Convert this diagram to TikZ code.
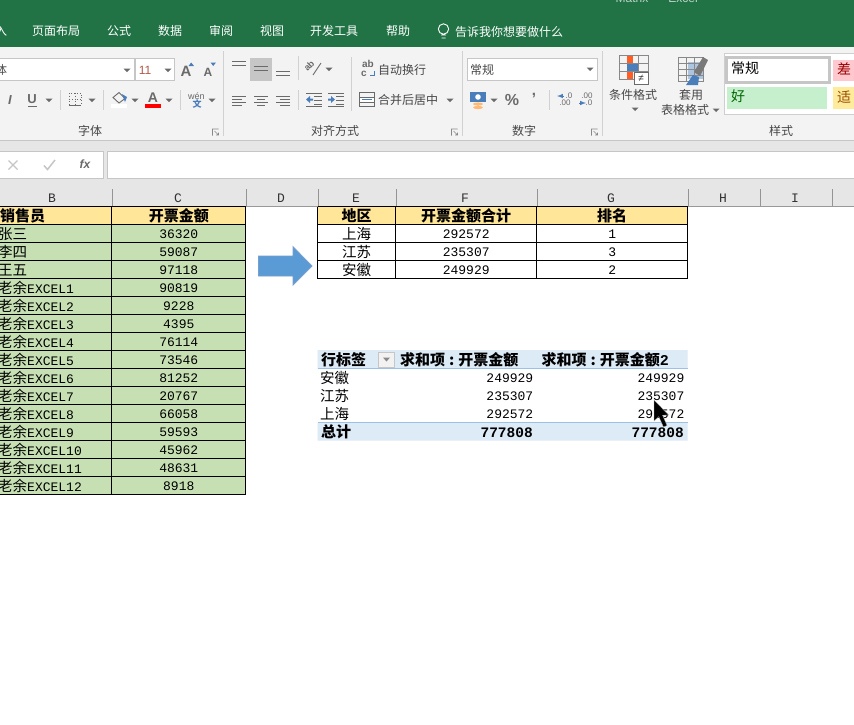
\documentclass[tikz,border=0pt]{standalone}
\usepackage{fontspec}
\setmainfont{Liberation Sans}
\newfontfamily\cjk{Noto Sans CJK SC}
\newfontfamily\mono{Liberation Mono}
\definecolor{xlgreen}{HTML}{217346}
\definecolor{ribbonbg}{HTML}{F3F3F3}
\definecolor{framegrey}{HTML}{C6C6C6}
\definecolor{bandgrey}{HTML}{E6E6E6}
\definecolor{icongrey}{HTML}{6A6A6A}
\definecolor{iconblue}{HTML}{4A7EBB}
\definecolor{headyellow}{HTML}{FFE699}
\definecolor{bodygreen}{HTML}{C6E0B4}
\definecolor{pivotblue}{HTML}{DDEBF7}
\definecolor{pivotline}{HTML}{9BC2E6}
\definecolor{goodfill}{HTML}{C6EFCE}
\definecolor{badfill}{HTML}{FFC7CE}
\definecolor{neutralfill}{HTML}{FFEB9C}
\definecolor{arrowblue}{HTML}{5B9BD5}
\tikzset{
  tabtext/.style={inner sep=0pt,text=white,font=\cjk\fontsize{12}{12}\selectfont},
  menutext/.style={inner sep=0pt,text=black!72,font=\cjk\fontsize{12}{12}\selectfont},
  cell/.style={inner sep=0pt,font=\cjk\fontsize{14.5}{14.5}\selectfont},
  headcell/.style={inner sep=0pt,font=\cjk\bfseries\fontsize{15}{15}\selectfont},
  numcell/.style={inner sep=0pt,yshift=-.7pt,font=\mono\fontsize{13}{13}\selectfont},
  totalcell/.style={inner sep=0pt,yshift=-.7pt,font=\mono\bfseries\fontsize{14.5}{14.5}\selectfont},
  colhead/.style={inner sep=0pt,text=black!80,font=\mono\fontsize{13}{13}\selectfont},
  icontext/.style={inner sep=0pt,text=icongrey,font=\bfseries\fontsize{#1}{#1}\selectfont},
  box/.style={draw=framegrey,fill=white,line width=1pt},
  grid/.style={draw=black,line width=1pt},
  sep/.style={draw=framegrey!80,line width=1pt},
  iconline/.style={draw=icongrey,line width=.9pt}
}
\begin{document}
\begin{tikzpicture}[x=1pt,y=-1pt]
  \useasboundingbox (0,0) rectangle (854,724);
  \fill[white] (0,0) rectangle (854,724);

  % title bar and tabs
  \fill[xlgreen] (0,0) rectangle (854,47);
  \node[inner sep=0pt,text=white!70!xlgreen,font=\fontsize{12}{12}\selectfont] (titlea) at (632,-2) {Matrix};
  \node[inner sep=0pt,text=white!70!xlgreen,font=\fontsize{12}{12}\selectfont] (titleb) at (683,-2) {Excel};
  \node[tabtext] (tabinsert) at (1,31) {入};
  \foreach \name/\xc/\lab in {page/56/页面布局,formula/119/公式,data/170/数据,review/221/审阅,view/272/视图,dev/334/开发工具,help/398/帮助}
    \node[tabtext] (tab\name) at (\xc,30.5) {\lab};
  \draw[white,line width=.9pt] (443.5,29) circle (5.2) (441,35) -- (446,35) (441.5,38) -- (445.5,38);
  \node[tabtext,anchor=west] (tabtell) at (455,31.5) {告诉我你想要做什么};

  % ribbon
  \fill[ribbonbg] (0,47) rectangle (854,140);
  \draw[framegrey] (0,140.5) -- (854,140.5);
  \fill[bandgrey] (0,141) rectangle (854,206);
  \foreach \xs in {223.5,462.5,602.5}
    \draw[sep] (\xs,51) -- (\xs,136);
  \foreach \xs in {60.5,103.5,180.5,298.5}
    \draw[sep] (\xs,90) -- (\xs,110);
  \draw[sep] (298.5,56) -- (298.5,80);
  \draw[sep] (351.5,57) -- (351.5,111);
  \draw[sep] (549.5,90) -- (549.5,110);

  % font group
  \draw[box] (-2,58.5) rectangle (134.5,80.5);
  \draw[box] (135.5,58.5) rectangle (174.5,80.5);
  \node[menutext,text=black!70,font=\cjk\fontsize{12}{12}\selectfont] (fontname) at (1,70) {体};
  \node[inner sep=0pt,text=orange!70!blue,font=\fontsize{12}{12}\selectfont] (fontsize) at (145,70) {11};
  \node[icontext=15] (growfont) at (186,71) {A};
  \node[icontext=12] (shrinkfont) at (208,72) {A};
  \fill[iconblue] (188.5,66) -- (194,66) -- (191.2,62.5) -- cycle (210.5,62.5) -- (216,62.5) -- (213.2,66) -- cycle;
  \node[inner sep=0pt,text=icongrey,font=\bfseries\itshape\fontsize{13}{13}\selectfont] (italicb) at (10,100) {I};
  \node[inner sep=0pt,text=icongrey,font=\bfseries\fontsize{13}{13}\selectfont] (underlineb) at (32,99) {U};
  \draw[iconline] (28,106.5) -- (37,106.5);
  \draw[icongrey,dotted,line width=.8pt] (69,93) rectangle (81,105) (75,93) -- (75,105) (69,99) -- (81,99);
  \draw[iconline] (69,105.5) -- (81,105.5);
  \fill[white] (111,104) rectangle (127,108);
  \draw[icongrey,line width=.9pt] (113,97.5) -- (119,92.5) -- (125,98.5) -- (119,103) -- cycle;
  \fill[iconblue] (122,94) -- (127,97) -- (125,102) -- cycle;
  \node[icontext=14] (fontcolor) at (153,98) {A};
  \fill[red] (145,104) rectangle (161,108);
  \node[inner sep=0pt,text=icongrey,font=\fontsize{9}{9}\selectfont] (wen) at (196.5,96) {wén};
  \node[inner sep=0pt,text=iconblue,font=\cjk\bfseries\fontsize{9}{9}\selectfont] (wenzi) at (197,104) {文};
  \node[menutext] (fontgroup) at (90,131) {字体};

  % alignment group
  \fill[framegrey] (250,58) rectangle (272,81);
  \foreach \xa/\ya in {232/61,232/65,254/66,254/70,276/71,276/75}
    \draw[iconline] (\xa,\ya) -- (\xa+14,\ya);
  \foreach \xa/\xb/\xc/\xd in {232/246/232/242,254/268/257/265,276/290/280/290}{
    \foreach \ya in {96,102}
      \draw[iconline,line width=.7pt] (\xa,\ya) -- (\xb,\ya);
    \foreach \ya in {99,105}
      \draw[iconline,line width=.7pt] (\xc,\ya) -- (\xd,\ya);
  }
  \node[icontext=9,rotate=45] (orient) at (309,66) {ab};
  \draw[iconline] (313,75) -- (321,63);
  \node[icontext=10] (wrapab) at (368,64) {ab};
  \node[icontext=10] (wrapc) at (364,74) {c};
  \draw[iconblue,line width=.9pt] (374,71) -- (374,75) -- (370,75);
  \node[menutext] (wraptext) at (402,69.5) {自动换行};
  \foreach \ya in {96,100,104}
    \draw[iconline,line width=.7pt] (314,\ya) -- (322,\ya) (336,\ya) -- (344,\ya);
  \draw[iconline,line width=.7pt] (306,93) -- (322,93) (306,106) -- (322,106) (328,93) -- (344,93) (328,106) -- (344,106);
  \fill[iconblue] (306,99.5) -- (310,96) -- (310,98.5) -- (313,98.5) -- (313,100.5) -- (310,100.5) -- (310,103) -- cycle;
  \fill[iconblue] (335,99.5) -- (331,96) -- (331,98.5) -- (328,98.5) -- (328,100.5) -- (331,100.5) -- (331,103) -- cycle;
  \draw[iconline] (359.5,92.5) rectangle (374,106.5) (359.5,97) -- (374,97) (359.5,102) -- (374,102);
  \fill[white] (360,97.5) rectangle (373.5,101.5);
  \draw[iconblue,line width=.8pt] (362,99.5) -- (372,99.5);
  \node[menutext] (mergetext) at (408,100) {合并后居中};
  \node[menutext] (aligngroup) at (335,131) {对齐方式};

  % number group
  \draw[box] (467.5,58.5) rectangle (597.5,80.5);
  \node[menutext,anchor=west] (numfmt) at (470,69.5) {常规};
  \fill[iconblue] (470,92) rectangle (486,102);
  \fill[white] (478,97) circle (2.8);
  \fill[orange!55] (478,104) ellipse (5 and 1.6) (478,107.5) ellipse (5 and 1.6);
  \node[icontext=16] (percent) at (512,100) {\%};
  \node[icontext=15] (comma) at (534,96) {,};
  \node[inner sep=0pt,text=icongrey,font=\fontsize{8}{8}\selectfont] (incup) at (569,96) {.0};
  \node[inner sep=0pt,text=icongrey,font=\fontsize{8}{8}\selectfont] (incdn) at (565,103) {.00};
  \node[inner sep=0pt,text=icongrey,font=\fontsize{8}{8}\selectfont] (decup) at (587,96) {.00};
  \node[inner sep=0pt,text=icongrey,font=\fontsize{8}{8}\selectfont] (decdn) at (589,103) {.0};
  \draw[iconblue,line width=1pt,-latex] (564,96) -- (557,96);
  \draw[iconblue,line width=1pt,-latex] (579,103) -- (586,103);
  \node[menutext] (numgroup) at (524,131) {数字};

  % styles group
  \draw[icongrey!80,line width=.8pt] (619,55.5) rectangle (648,79.5) (619,63.5) -- (648,63.5) (619,71.5) -- (648,71.5) (627,55.5) -- (627,79.5) (638,55.5) -- (638,79.5);
  \fill[orange!50!red!85] (627,56) rectangle (633,63);
  \fill[iconblue] (627,64) rectangle (638,71);
  \fill[orange!50!red!85] (627,72) rectangle (633,79);
  \draw[icongrey,fill=white,line width=.9pt] (634,72.5) rectangle (648.5,84.5);
  \node[inner sep=0pt,text=black!80,font=\fontsize{10}{10}\selectfont] (notequal) at (641,78.5) {≠};
  \node[menutext] (condfmt) at (633,95) {条件格式};
  \fill[iconblue!45] (688,62) rectangle (704,79);
  \draw[icongrey!80,line width=.7pt] (678.5,57.5) rectangle (703,81) (678.5,63) -- (703,63) (678.5,69) -- (703,69) (678.5,75) -- (703,75) (686,57.5) -- (686,81) (694,57.5) -- (694,81);
  \fill[icongrey!90] (700,76) -- (708,60) -- (703,57) -- (694,72) -- cycle;
  \fill[iconblue] (686,85) -- (698,85) -- (699,77) -- (693,75) -- cycle;
  \node[menutext] (tabfmta) at (691,95) {套用};
  \node[menutext] (tabfmtb) at (685,110) {表格格式};
  \draw[draw=framegrey!85,fill=white,line width=1pt] (724,53.5) rectangle (860,114);
  \draw[draw=framegrey,line width=3pt] (726.5,57.5) rectangle (829,82);
  \fill[white] (728,59) rectangle (827.5,80.5);
  \fill[goodfill] (727,87) rectangle (827,109);
  \fill[badfill] (833,60) rectangle (860,81);
  \fill[neutralfill] (833,87) rectangle (860,109);
  \node[inner sep=0pt,anchor=west,font=\cjk\fontsize{14}{14}\selectfont] (stylenormal) at (731,68) {常规};
  \node[inner sep=0pt,anchor=west,text=green!40!black,font=\cjk\fontsize{14}{14}\selectfont] (stylegood) at (731,96.5) {好};
  \node[inner sep=0pt,anchor=west,text=red!60!black,font=\cjk\fontsize{14}{14}\selectfont] (stylebad) at (837,69) {差};
  \node[inner sep=0pt,anchor=west,text=orange!60!black,font=\cjk\fontsize{14}{14}\selectfont] (styleneutral) at (837,97) {适};
  \node[menutext] (stylegroup) at (781,131) {样式};

  % drop-down triangles and launchers
  \foreach \xd/\yd in {127/70,168/70,49/100,92/100,135/100,169/100,212/100,329/69,450/100,590/69,494/100,635/109,716/110}
    \fill[icongrey] (\xd-3.5,\yd-1.5) -- (\xd+3.5,\yd-1.5) -- (\xd,\yd+2) -- cycle;
  \foreach \xl in {215.5,454.5,594.5}
    \draw[icongrey!80,line width=.6pt] (\xl-3,135.5) |- (\xl+3,129) (\xl-1,131) -- (\xl+3,135) (\xl+3,132.5) -- (\xl+3,135) -- (\xl+.5,135);

  % formula bar
  \draw[box] (-2,151.5) rectangle (103,178);
  \draw[box] (107.5,151.5) rectangle (860,178);
  \draw[framegrey,line width=1.2pt] (8.5,160.5) -- (17.5,169.5) (17.5,160.5) -- (8.5,169.5);
  \draw[framegrey,line width=1.5pt] (44,165.5) -- (47.5,169.5) -- (55,160);
  \node[inner sep=0pt,text=icongrey,font=\bfseries\itshape\fontsize{12}{12}\selectfont] (fxmark) at (85,164.5) {fx};

  % column letters
  \foreach \xs in {111.7,245.7,317.7,395.7,536.7,687.7,759.7,831.7}
    \draw[framegrey!75!black] (\xs,189) -- (\xs,206);
  \foreach \lab/\xc in {B/52,C/178,D/281,E/356,F/465,G/611,H/723,I/795}
    \node[colhead] (col\lab) at (\xc,198.5) {\lab};
  \draw[black!40] (0,206.2) -- (854,206.2);

  % sales table
  \fill[headyellow] (0,206.7) rectangle (245.7,224.7);
  \fill[bodygreen] (0,224.7) rectangle (245.7,494.7);
  \node[headcell,anchor=west] (salesname) at (0,215.7) {销售员};
  \node[headcell] (salesamount) at (178.8,215.7) {开票金额};
  \foreach \nm/\ex/\val [count=\i] in {张三/{}/36320,李四/{}/59087,王五/{}/97118,老余/EXCEL1/90819,老余/EXCEL2/9228,老余/EXCEL3/4395,老余/EXCEL4/76114,老余/EXCEL5/73546,老余/EXCEL6/81252,老余/EXCEL7/20767,老余/EXCEL8/66058,老余/EXCEL9/59593,老余/EXCEL10/45962,老余/EXCEL11/48631,老余/EXCEL12/8918}{
    \pgfmathsetmacro\yr{215.7+18*\i}
    \node[cell,anchor=west] (name\i) at (-2,\yr) {\nm{\mono\fontsize{13}{13}\selectfont\ex}};
    \node[numcell] (amount\i) at (178.8,\yr) {\val};
  }
  \foreach \i in {0,...,16}{
    \pgfmathsetmacro\yr{206.7+18*\i}
    \draw[grid] (0,\yr) -- (245.7,\yr);
  }
  \draw[grid] (111.7,206.7) -- (111.7,494.7) (245.7,206.7) -- (245.7,494.7);

  % block arrow
  \fill[fill=arrowblue,draw=iconblue!75,line width=.8pt] (258.5,256) -- (293,256) -- (293,246.7) -- (312,266) -- (293,285) -- (293,276) -- (258.5,276) -- cycle;

  % region table
  \fill[headyellow] (317.7,206.7) rectangle (687.7,224.7);
  \node[headcell] (regionhead) at (356.7,215.7) {地区};
  \node[headcell] (totalhead) at (466.2,215.7) {开票金额合计};
  \node[headcell] (rankhead) at (612.2,215.7) {排名};
  \foreach \reg/\val/\rk [count=\i] in {上海/292572/1,江苏/235307/3,安徽/249929/2}{
    \pgfmathsetmacro\yr{215.7+18*\i}
    \node[cell] (region\i) at (356.7,\yr) {\reg};
    \node[numcell] (total\i) at (466.2,\yr) {\val};
    \node[numcell] (rank\i) at (612.2,\yr) {\rk};
  }
  \foreach \i in {0,...,4}{
    \pgfmathsetmacro\yr{206.7+18*\i}
    \draw[grid] (317.7,\yr) -- (687.7,\yr);
  }
  \foreach \xs in {317.7,395.7,536.7,687.7}
    \draw[grid] (\xs,206.7) -- (\xs,278.7);

  % pivot table
  \fill[pivotblue] (317.7,350) rectangle (687.7,368.7) (317.7,422.7) rectangle (687.7,440.7);
  \draw[pivotline,line width=1pt] (317.7,368.7) -- (687.7,368.7) (317.7,422.7) -- (687.7,422.7);
  \node[headcell,anchor=west] (pivotlabel) at (321,359.7) {行标签};
  \draw[draw=framegrey,fill=white!95!black,line width=.8pt] (378.5,352) rectangle (394.5,367);
  \fill[icongrey!80] (383,357.5) -- (390,357.5) -- (386.5,361.5) -- cycle;
  \node[headcell,anchor=west] (pivotsuma) at (400,359.7) {求和项\hspace{4pt}:\hspace{4pt}开票金额};
  \node[headcell,anchor=west] (pivotsumb) at (541.5,359.7) {求和项\hspace{4pt}:\hspace{4pt}开票金额{\mono 2}};
  \foreach \reg/\val [count=\i] in {安徽/249929,江苏/235307,上海/292572}{
    \pgfmathsetmacro\yr{359.7+18*\i}
    \node[cell,anchor=west] (pivotreg\i) at (320,\yr) {\reg};
    \node[numcell,anchor=east] (pivota\i) at (533.5,\yr) {\val};
    \node[numcell,anchor=east] (pivotb\i) at (684.5,\yr) {\val};
  }
  \node[headcell,anchor=west] (pivottotal) at (321,431.7) {总计};
  \node[totalcell,anchor=east] (pivottotala) at (533,431.7) {777808};
  \node[totalcell,anchor=east] (pivottotalb) at (684,431.7) {777808};

  % mouse pointer
  \fill[black,draw=white!70!black,line width=.3pt] (654,400) -- (654,421) -- (658.8,416.6) -- (663.5,427) -- (667,425.5) -- (662.5,415.2) -- (668.5,415) -- cycle;
\end{tikzpicture}
\end{document}
